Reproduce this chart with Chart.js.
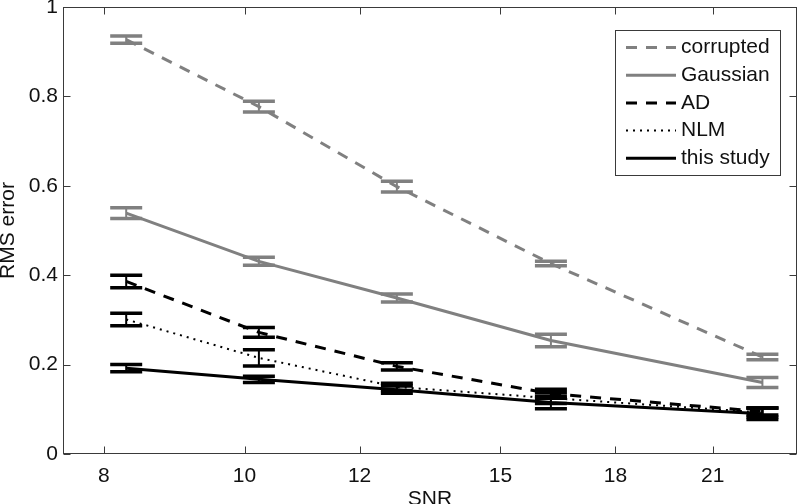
<!DOCTYPE html>
<html>
<head>
<meta charset="utf-8">
<script src="https://cdn.jsdelivr.net/npm/chart.js@4/dist/chart.umd.min.js"></script>
<style>
  html, body { margin: 0; padding: 0; background: #fff; }
  #wrap { width: 800px; height: 504px; }
</style>
</head>
<body>
<div id="wrap"><canvas id="rmsChart"></canvas></div>
<script>
// SNR positions of the measurements (log x axis)
const snr = [8.29, 10.23, 12.73, 16.25, 22.72];
const xTicks = [8, 10, 12, 15, 18, 21];
const yTicks = [0, 0.2, 0.4, 0.6, 0.8, 1];

const corrupted = [0.927, 0.777, 0.598, 0.426, 0.217];
const corruptedErr = [0.008, 0.012, 0.012, 0.005, 0.006];
const gaussian = [0.539, 0.431, 0.349, 0.254, 0.160];
const gaussianErr = [0.012, 0.009, 0.009, 0.014, 0.011];
const ad = [0.386, 0.272, 0.196, 0.135, 0.095];
const adErr = [0.014, 0.011, 0.008, 0.010, 0.008];
const nlm = [0.301, 0.215, 0.150, 0.125, 0.093];
const nlmErr = [0.014, 0.018, 0.008, 0.012, 0.010];
const thisStudy = [0.192, 0.167, 0.144, 0.115, 0.090];
const thisStudyErr = [0.008, 0.007, 0.008, 0.014, 0.013];

const FONT = '"Liberation Sans", Arial, Helvetica, sans-serif';
const GRAY = '#808080';
const INK = '#111';

function toPoints(values) {
    return values.map((v, i) => ({ x: snr[i], y: v }));
}

function series(label, values, errors, color, width, dash) {
    return {
        label: label,
        data: toPoints(values),
        errors: errors,
        borderColor: color,
        backgroundColor: color,
        borderWidth: width,
        borderDash: dash,
        pointRadius: 0,
        fill: false,
        tension: 0
    };
}

// MATLAB-like axes box, inward ticks, error bars and legend
const matlabLook = {
    id: 'matlabLook',
    afterDatasetsDraw(chart) {
        const ctx = chart.ctx;
        const area = chart.chartArea;
        const xs = chart.scales.x;
        const ys = chart.scales.y;

        // error bars
        chart.data.datasets.forEach(ds => {
            ctx.save();
            ctx.strokeStyle = ds.borderColor;
            ctx.setLineDash([]);
            ds.data.forEach((p, i) => {
                const px = xs.getPixelForValue(p.x);
                const yTop = ys.getPixelForValue(p.y + ds.errors[i]);
                const yBot = ys.getPixelForValue(p.y - ds.errors[i]);
                ctx.lineWidth = 2;
                ctx.beginPath();
                ctx.moveTo(px, yTop);
                ctx.lineTo(px, yBot);
                ctx.stroke();
                ctx.lineWidth = 3.5;
                ctx.beginPath();
                ctx.moveTo(px - 16, yTop);
                ctx.lineTo(px + 16, yTop);
                ctx.moveTo(px - 16, yBot);
                ctx.lineTo(px + 16, yBot);
                ctx.stroke();
            });
            ctx.restore();
        });

        // box + ticks
        ctx.save();
        ctx.strokeStyle = '#3a3a3a';
        ctx.lineWidth = 1;
        ctx.setLineDash([]);
        const l = Math.round(area.left) + 0.5, r = Math.round(area.right) - 0.5;
        const t = Math.round(area.top) + 0.5, b = Math.round(area.bottom) - 0.5;
        ctx.strokeRect(l, t, r - l, b - t);
        ctx.beginPath();
        xTicks.forEach(v => {
            const px = Math.round(xs.getPixelForValue(v)) + 0.5;
            ctx.moveTo(px, b); ctx.lineTo(px, b - 7);
            ctx.moveTo(px, t); ctx.lineTo(px, t + 7);
        });
        yTicks.forEach(v => {
            const py = Math.round(ys.getPixelForValue(v)) + 0.5;
            ctx.moveTo(l, py); ctx.lineTo(l + 7, py);
            ctx.moveTo(r, py); ctx.lineTo(r - 7, py);
        });
        ctx.stroke();

        // legend
        const boxR = area.right - 17, boxL = boxR - 165;
        const boxT = area.top + 23, boxB = boxT + 145;
        ctx.fillStyle = '#fff';
        ctx.fillRect(boxL, boxT, boxR - boxL, boxB - boxT);
        ctx.strokeStyle = '#3a3a3a';
        ctx.strokeRect(Math.round(boxL) + 0.5, Math.round(boxT) + 0.5, boxR - boxL, boxB - boxT);
        ctx.font = '21px ' + FONT;
        ctx.textBaseline = 'middle';
        ctx.textAlign = 'left';
        chart.data.datasets.forEach((ds, i) => {
            const cy = boxT + 17.5 + i * 27.7;
            ctx.strokeStyle = ds.borderColor;
            ctx.lineWidth = ds.borderWidth;
            ctx.setLineDash(ds.borderDash || []);
            ctx.beginPath();
            ctx.moveTo(boxL + 11, cy);
            ctx.lineTo(boxL + 61, cy);
            ctx.stroke();
            ctx.fillStyle = INK;
            ctx.fillText(ds.label, boxL + 66, cy);
        });
        ctx.restore();
    }
};

const ctx = document.getElementById('rmsChart').getContext('2d');
const chart = new Chart(ctx, {
    type: 'line',
    data: {
        datasets: [
            series('corrupted', corrupted, corruptedErr, GRAY, 3, [11, 9]),
            series('Gaussian', gaussian, gaussianErr, GRAY, 3, []),
            series('AD', ad, adErr, '#000', 3, [11, 9]),
            series('NLM', nlm, nlmErr, '#000', 2, [2, 5]),
            series('this study', thisStudy, thisStudyErr, '#000', 3, [])
        ]
    },
    options: {
        responsive: true,
        maintainAspectRatio: false,
        animation: false,
        layout: { padding: { left: 0, right: 3, top: 7, bottom: 0 } },
        scales: {
            x: {
                type: 'logarithmic',
                min: 7.5,
                max: 24,
                afterBuildTicks: s => { s.ticks = xTicks.map(v => ({ value: v })); },
                afterFit: s => { s.height = 50; s.paddingLeft = 0; s.paddingRight = 0; },
                grid: { display: false, drawTicks: false },
                border: { display: false },
                ticks: {
                    autoSkip: false,
                    maxRotation: 0,
                    padding: 10,
                    color: INK,
                    font: { family: FONT, size: 21 },
                    callback: v => String(v)
                },
                title: {
                    display: true,
                    text: 'SNR',
                    color: INK,
                    padding: 0,
                    font: { family: FONT, size: 21, lineHeight: 0.45 }
                }
            },
            y: {
                type: 'linear',
                min: 0,
                max: 1,
                afterBuildTicks: s => { s.ticks = yTicks.map(v => ({ value: v })); },
                afterFit: s => { s.width = 63; s.paddingTop = 0; s.paddingBottom = 0; },
                grid: { display: false, drawTicks: false },
                border: { display: false },
                ticks: {
                    padding: 5,
                    color: INK,
                    font: { family: FONT, size: 21 },
                    callback: v => String(v)
                },
                title: {
                    display: true,
                    text: 'RMS error',
                    color: INK,
                    padding: 0,
                    font: { family: FONT, size: 21, lineHeight: 0.75 }
                }
            }
        },
        plugins: {
            legend: { display: false },
            tooltip: { enabled: false }
        }
    },
    plugins: [matlabLook]
});
</script>
</body>
</html>
